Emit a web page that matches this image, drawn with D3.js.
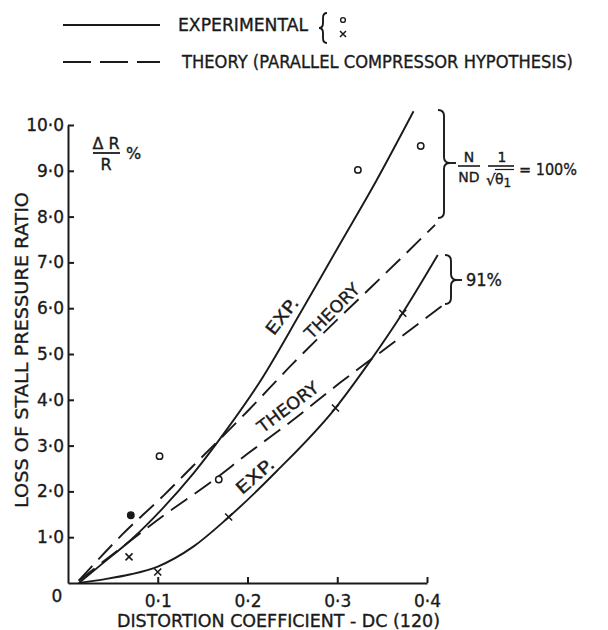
<!DOCTYPE html>
<html>
<head>
<meta charset="utf-8">
<script src="https://cdn.jsdelivr.net/npm/d3@7"></script>
<style>
  html, body { margin: 0; padding: 0; background: #fff; }
  svg { display: block; }
  text { font-family: "DejaVu Sans", sans-serif; fill: #1a1a1a; stroke: #1a1a1a; stroke-width: 0.35px; }
</style>
</head>
<body>
<svg id="chart" width="608" height="630"></svg>
<script>
// ---- data ----
const xTicks = [0.1, 0.2, 0.3, 0.4];
const xTickLabels = ["0·1", "0·2", "0·3", "0·4"];
const yTicks = [1, 2, 3, 4, 5, 6, 7, 8, 9, 10];
const yTickLabels = ["1·0", "2·0", "3·0", "4·0", "5·0", "6·0", "7·0", "8·0", "9·0", "10·0"];

// 100% speed – experimental curve
const exp100X = [0.012, 0.04, 0.07, 0.105, 0.14, 0.175, 0.214, 0.259, 0.30, 0.344, 0.385];
const exp100Y = [0.0, 0.45, 0.94, 1.62, 2.40, 3.30, 4.40, 5.90, 7.30, 8.80, 10.30];
// 100% speed – theory
const theory100X = [0.012, 0.06, 0.107, 0.139, 0.2, 0.251, 0.3, 0.34, 0.409];
const theory100Y = [0.05, 1.05, 1.92, 2.55, 3.75, 4.8, 5.75, 6.5, 7.82];
// 91% speed – experimental curve
const exp91X = [0.012, 0.04, 0.07, 0.1, 0.14, 0.178, 0.233, 0.298, 0.335, 0.373, 0.412];
const exp91Y = [0.0, 0.08, 0.19, 0.36, 0.8, 1.42, 2.45, 3.82, 4.8, 5.9, 7.16];
// 91% speed – theory
const theory91X = [0.012, 0.06, 0.107, 0.159, 0.2, 0.25, 0.303, 0.362, 0.418];
const theory91Y = [0.05, 0.78, 1.48, 2.2, 2.82, 3.55, 4.37, 5.24, 6.07];

// experimental points: circles (100%) and crosses (91%)
const circleX = [0.070, 0.102, 0.168, 0.323, 0.393];
const circleY = [1.48, 2.77, 2.26, 9.02, 9.54];
const crossX = [0.068, 0.100, 0.179, 0.298, 0.373];
const crossY = [0.57, 0.24, 1.44, 3.82, 5.89];

const legendLabels = ["EXPERIMENTAL", "THEORY (PARALLEL COMPRESSOR HYPOTHESIS)"];
const xTitle = "DISTORTION COEFFICIENT - DC (120)";
const yTitle = "LOSS OF STALL PRESSURE RATIO";

// ---- drawing ----
const ink = "#1a1a1a";
const FONT = '"DejaVu Sans", sans-serif';
const svg = d3.select("#chart");
const x = d3.scaleLinear().domain([0, 0.4]).range([68, 427]);
const y = d3.scaleLinear().domain([0, 10]).range([583, 125]);

const zip = (xs, ys) => xs.map((v, i) => [v, ys[i]]);
const line = d3.line().x(d => x(d[0])).y(d => y(d[1])).curve(d3.curveMonotoneX);

// axes
const xAxis = d3.axisBottom(x).tickValues(xTicks)
  .tickFormat((d, i) => xTickLabels[i]).tickSizeInner(-6).tickSizeOuter(0).tickPadding(12);
const yAxis = d3.axisLeft(y).tickValues(yTicks)
  .tickFormat((d, i) => yTickLabels[i]).tickSizeInner(-6).tickSizeOuter(0).tickPadding(4);

const gx = svg.append("g").attr("transform", `translate(0,${y(0)})`).call(xAxis);
const gy = svg.append("g").attr("transform", `translate(${x(0)},0)`).call(yAxis);
[gx, gy].forEach(g => {
  g.select(".domain").attr("stroke", ink).attr("stroke-width", 2);
  g.selectAll(".tick line").attr("stroke", ink).attr("stroke-width", 2);
  g.selectAll(".tick text").style("font-family", FONT)
    .style("font-size", "17px").attr("fill", ink);
});
svg.append("text").attr("x", 57).attr("y", 602).attr("text-anchor", "middle")
  .style("font-size", "17px").text("0");

// axis titles
svg.append("text").attr("x", 117).attr("y", 627).style("font-size", "17px")
  .attr("textLength", 323).attr("lengthAdjust", "spacingAndGlyphs").text(xTitle);
svg.append("text").attr("transform", "translate(28,350) rotate(-90)")
  .attr("text-anchor", "middle").style("font-size", "17px")
  .attr("textLength", 316).attr("lengthAdjust", "spacingAndGlyphs").text(yTitle);

// curves
const curves = [
  { d: zip(exp100X, exp100Y), dash: null },
  { d: zip(theory100X, theory100Y), dash: "20,9" },
  { d: zip(exp91X, exp91Y), dash: null },
  { d: zip(theory91X, theory91Y), dash: "20,9" }
];
curves.forEach(c => {
  svg.append("path").attr("d", line(c.d)).attr("fill", "none")
    .attr("stroke", ink).attr("stroke-width", 1.9)
    .attr("stroke-dasharray", c.dash);
});

// points
svg.selectAll("circle.pt").data(zip(circleX, circleY)).join("circle")
  .attr("class", "pt").attr("cx", d => x(d[0])).attr("cy", d => y(d[1])).attr("r", 3.2)
  .attr("fill", (d, i) => i === 0 ? ink : "#fff").attr("stroke", ink).attr("stroke-width", 1.5);
const cs = 3.5;
svg.selectAll("path.cross").data(zip(crossX, crossY)).join("path")
  .attr("class", "cross")
  .attr("d", d => {
    const cx = x(d[0]), cy = y(d[1]);
    return `M${cx - cs},${cy - cs}L${cx + cs},${cy + cs}M${cx - cs},${cy + cs}L${cx + cs},${cy - cs}`;
  })
  .attr("stroke", ink).attr("stroke-width", 1.6);

// labels on curves
function rotLabel(txt, cx, cy, ang, len) {
  svg.append("text").attr("transform", `translate(${cx},${cy}) rotate(${ang})`)
    .attr("text-anchor", "middle").attr("dy", "0.35em").style("font-size", "17px")
    .attr("textLength", len).attr("lengthAdjust", "spacingAndGlyphs").text(txt);
}
rotLabel("EXP.", 282, 316, -52, 42);
rotLabel("THEORY", 332, 311, -45, 70);
rotLabel("THEORY", 288, 407, -37, 72);
rotLabel("EXP.", 255, 476, -41, 45);

// braces
function rightBrace(x0, y1, y2, ym, w, r) {
  return `M${x0},${y1} Q${x0 + w},${y1} ${x0 + w},${y1 + r} L${x0 + w},${ym - r} ` +
    `Q${x0 + w},${ym} ${x0 + 2 * w},${ym} Q${x0 + w},${ym} ${x0 + w},${ym + r} ` +
    `L${x0 + w},${y2 - r} Q${x0 + w},${y2} ${x0},${y2}`;
}
function leftBrace(x0, y1, y2, ym, w, r) {
  return `M${x0},${y1} Q${x0 - w},${y1} ${x0 - w},${y1 + r} L${x0 - w},${ym - r} ` +
    `Q${x0 - w},${ym} ${x0 - 2 * w},${ym} Q${x0 - w},${ym} ${x0 - w},${ym + r} ` +
    `L${x0 - w},${y2 - r} Q${x0 - w},${y2} ${x0},${y2}`;
}
const braceStyle = p => p.attr("fill", "none").attr("stroke", ink).attr("stroke-width", 1.9);
svg.append("path").attr("d", rightBrace(438, 110, 218, 163, 6, 6)).call(braceStyle);
svg.append("path").attr("d", "M450,163 L456,163").call(braceStyle);
svg.append("path").attr("d", rightBrace(445, 255, 304, 280, 6, 6)).call(braceStyle);
svg.append("path").attr("d", "M457,280 L462,280").call(braceStyle);

// N/ND 1/sqrt(theta1) = 100%
const ann = svg.append("g");
ann.append("text").attr("x", 469).attr("y", 162).attr("text-anchor", "middle").style("font-size", "14px").text("N");
ann.append("line").attr("x1", 458).attr("x2", 480).attr("y1", 166).attr("y2", 166).attr("stroke", ink).attr("stroke-width", 1.6);
ann.append("text").attr("x", 469).attr("y", 182).attr("text-anchor", "middle").style("font-size", "14px").text("ND");
ann.append("text").attr("x", 502).attr("y", 162).attr("text-anchor", "middle").style("font-size", "14px").text("1");
ann.append("line").attr("x1", 488).attr("x2", 514).attr("y1", 166).attr("y2", 166).attr("stroke", ink).attr("stroke-width", 1.6);
ann.append("text").attr("x", 486).attr("y", 185).style("font-size", "15px").text("√");
ann.append("line").attr("x1", 495).attr("x2", 514).attr("y1", 169.5).attr("y2", 169.5).attr("stroke", ink).attr("stroke-width", 1.2);
const th = ann.append("text").attr("x", 495).attr("y", 184).style("font-size", "14px");
th.append("tspan").text("θ");
th.append("tspan").attr("dy", 3).style("font-size", "12px").text("1");
ann.append("text").attr("x", 519).attr("y", 175).style("font-size", "16px")
  .attr("textLength", 58).attr("lengthAdjust", "spacingAndGlyphs").text("= 100%");
svg.append("text").attr("x", 466).attr("y", 286).style("font-size", "17px")
  .attr("textLength", 36).attr("lengthAdjust", "spacingAndGlyphs").text("91%");

// ΔR / R %
svg.append("text").attr("x", 106).attr("y", 149).attr("text-anchor", "middle").style("font-size", "16px").text("Δ R");
svg.append("line").attr("x1", 93).attr("x2", 120).attr("y1", 153).attr("y2", 153).attr("stroke", ink).attr("stroke-width", 1.8);
svg.append("text").attr("x", 106).attr("y", 170).attr("text-anchor", "middle").style("font-size", "16px").text("R");
svg.append("text").attr("x", 126).attr("y", 159).style("font-size", "16px").text("%");

// legend
const lg = svg.append("g");
lg.append("line").attr("x1", 63).attr("x2", 160).attr("y1", 25).attr("y2", 25)
  .attr("stroke", ink).attr("stroke-width", 1.9);
lg.append("text").attr("x", 178).attr("y", 31).style("font-size", "17px")
  .attr("textLength", 130).attr("lengthAdjust", "spacingAndGlyphs").text(legendLabels[0]);
lg.append("path").attr("d", leftBrace(327, 13, 43, 28, 4, 5)).call(braceStyle);
lg.append("circle").attr("cx", 343).attr("cy", 20).attr("r", 2.4).attr("fill", "none")
  .attr("stroke", ink).attr("stroke-width", 1.4);
lg.append("path").attr("d", "M340,31 L346,37 M340,37 L346,31").attr("stroke", ink).attr("stroke-width", 1.5);
lg.append("line").attr("x1", 63).attr("x2", 160).attr("y1", 62).attr("y2", 62)
  .attr("stroke", ink).attr("stroke-width", 1.9).attr("stroke-dasharray", "28,9");
lg.append("text").attr("x", 182).attr("y", 68).style("font-size", "17px")
  .attr("textLength", 391).attr("lengthAdjust", "spacingAndGlyphs").text(legendLabels[1]);
</script>
</body>
</html>
